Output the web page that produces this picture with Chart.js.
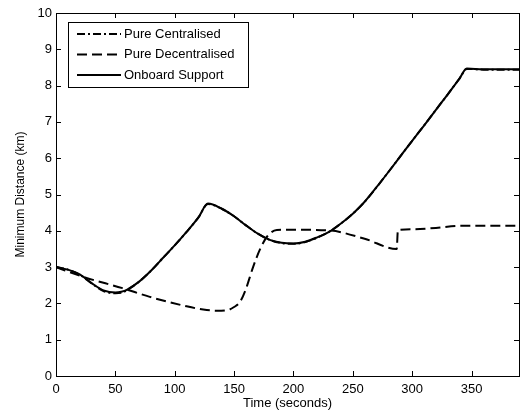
<!DOCTYPE html>
<html>
<head>
<meta charset="utf-8">
<script src="https://cdn.jsdelivr.net/npm/chart.js@4.4.0/dist/chart.umd.min.js"></script>
<style>
  body { margin: 0; background: #fff; }
</style>
</head>
<body>
<canvas id="myChart" width="525" height="416"></canvas>
<script>
  // series data (time in seconds, min distance in km)
  const seriesNames = ["Pure Centralised", "Pure Decentralised", "Onboard Support"];

  const timeOnboard = [0, 10, 20, 30, 40, 50, 55, 60, 70, 80, 90, 100, 110, 120, 128, 140, 150, 160, 170, 180, 190, 200, 210, 220, 230, 240, 250, 260, 270, 280, 290, 300, 310, 320, 330, 340, 346, 360, 390];
  const distOnboard = [3.0, 2.93, 2.8, 2.56, 2.36, 2.3, 2.32, 2.38, 2.6, 2.9, 3.25, 3.6, 3.97, 4.37, 4.75, 4.6, 4.4, 4.15, 3.92, 3.75, 3.67, 3.65, 3.7, 3.82, 3.97, 4.2, 4.47, 4.8, 5.2, 5.62, 6.05, 6.48, 6.9, 7.33, 7.76, 8.2, 8.47, 8.45, 8.45];

  const timeCentral = [0, 10, 20, 30, 40, 50, 55, 60, 70, 80, 90, 100, 110, 120, 128, 140, 150, 160, 170, 180, 190, 200, 210, 220, 230, 240, 250, 260, 270, 280, 290, 300, 310, 320, 330, 340, 346, 360, 390];
  const distCentral = [3.0, 2.93, 2.79, 2.55, 2.34, 2.28, 2.29, 2.37, 2.6, 2.9, 3.25, 3.6, 3.97, 4.37, 4.74, 4.6, 4.4, 4.15, 3.92, 3.75, 3.66, 3.64, 3.69, 3.81, 3.97, 4.2, 4.47, 4.8, 5.2, 5.62, 6.05, 6.48, 6.9, 7.33, 7.76, 8.2, 8.46, 8.44, 8.44];

  const timeDecentral = [0, 23, 56, 79, 110, 124, 135, 145, 150, 155, 160, 166, 172, 178, 186, 200, 230, 260, 287, 288, 300, 320, 341, 390];
  const distDecentral = [3.0, 2.73, 2.42, 2.18, 1.92, 1.83, 1.8, 1.82, 1.9, 2.04, 2.4, 3.0, 3.5, 3.85, 4.02, 4.03, 4.01, 3.78, 3.5, 4.02, 4.04, 4.08, 4.14, 4.14];

  const xTicks = [0, 50, 100, 150, 200, 250, 300, 350];
  const yTicks = [0, 1, 2, 3, 4, 5, 6, 7, 8, 9, 10];

  const toPoints = (xs, ys) => xs.map((x, i) => ({ x: x, y: ys[i] }));

  // frame, inward ticks and legend box (matlab style)
  const matlabFrame = {
    id: "matlabFrame",
    afterDraw(chart) {
      const { ctx, chartArea: a, scales } = chart;
      ctx.save();
      ctx.strokeStyle = "#000";
      ctx.lineWidth = 1;
      ctx.strokeRect(a.left + 0.5, a.top + 0.5, a.right - a.left, a.bottom - a.top);

      ctx.beginPath();
      xTicks.forEach((t) => {
        const px = Math.round(scales.x.getPixelForValue(t)) + 0.5;
        ctx.moveTo(px, a.bottom);
        ctx.lineTo(px, a.bottom - 5);
        ctx.moveTo(px, a.top);
        ctx.lineTo(px, a.top + 5);
      });
      yTicks.forEach((t) => {
        const py = Math.round(scales.y.getPixelForValue(t)) + 0.5;
        ctx.moveTo(a.left, py);
        ctx.lineTo(a.left + 5, py);
        ctx.moveTo(a.right, py);
        ctx.lineTo(a.right - 5, py);
      });
      ctx.stroke();

      // legend
      const lx = 68, ly = 22, lw = 180, lh = 65;
      ctx.fillStyle = "#fff";
      ctx.fillRect(lx, ly, lw, lh);
      ctx.strokeRect(lx + 0.5, ly + 0.5, lw, lh);
      ctx.font = "13px 'Liberation Sans', Arial, sans-serif";
      ctx.textBaseline = "middle";
      ctx.fillStyle = "#000";
      chart.data.datasets.forEach((ds, i) => {
        const y = 34 + i * 20.5;
        ctx.beginPath();
        ctx.lineWidth = ds.borderWidth;
        ctx.setLineDash(ds.borderDash || []);
        ctx.moveTo(77, y);
        ctx.lineTo(121, y);
        ctx.stroke();
        ctx.setLineDash([]);
        ctx.fillText(ds.label, 124, y);
      });
      ctx.restore();
    },
  };

  const ctx = document.getElementById("myChart");
  const myChart = new Chart(ctx, {
    type: "line",
    data: {
      datasets: [
        {
          label: seriesNames[0],
          data: toPoints(timeCentral, distCentral),
          borderColor: "#000",
          borderWidth: 2,
          borderDash: [8, 3, 2, 3],
          pointRadius: 0,
          cubicInterpolationMode: "monotone",
        },
        {
          label: seriesNames[1],
          data: toPoints(timeDecentral, distDecentral),
          borderColor: "#000",
          borderWidth: 2,
          borderDash: [10, 5],
          pointRadius: 0,
          cubicInterpolationMode: "monotone",
        },
        {
          label: seriesNames[2],
          data: toPoints(timeOnboard, distOnboard),
          borderColor: "#000",
          borderWidth: 2,
          pointRadius: 0,
          cubicInterpolationMode: "monotone",
        },
      ],
    },
    options: {
      responsive: false,
      animation: false,
      layout: { padding: { top: 13, right: 6, left: 0, bottom: 0 } },
      plugins: {
        legend: { display: false },
        tooltip: { enabled: false },
      },
      scales: {
        x: {
          type: "linear",
          min: 0,
          max: 390,
          afterFit: (scale) => { scale.height = 40; },
          afterBuildTicks: (scale) => { scale.ticks = xTicks.map((v) => ({ value: v })); },
          grid: { display: false, drawTicks: false },
          border: { display: false },
          ticks: {
            color: "#000",
            padding: 6,
            maxRotation: 0,
            font: { family: "'Liberation Sans', Arial, sans-serif", size: 13 },
          },
          title: {
            display: true,
            text: "Time (seconds)",
            color: "#000",
            padding: { top: 0, bottom: 5 },
            font: { family: "'Liberation Sans', Arial, sans-serif", size: 13 },
          },
        },
        y: {
          min: 0,
          max: 10,
          afterFit: (scale) => { scale.width = 56; },
          afterBuildTicks: (scale) => { scale.ticks = yTicks.map((v) => ({ value: v })); },
          grid: { display: false, drawTicks: false },
          border: { display: false },
          ticks: {
            color: "#000",
            padding: 4,
            font: { family: "'Liberation Sans', Arial, sans-serif", size: 13 },
          },
          title: {
            display: true,
            text: "Minimum Distance (km)",
            color: "#000",
            padding: { top: 13, bottom: 0 },
            font: { family: "'Liberation Sans', Arial, sans-serif", size: 12 },
          },
        },
      },
    },
    plugins: [matlabFrame],
  });
</script>
</body>
</html>
